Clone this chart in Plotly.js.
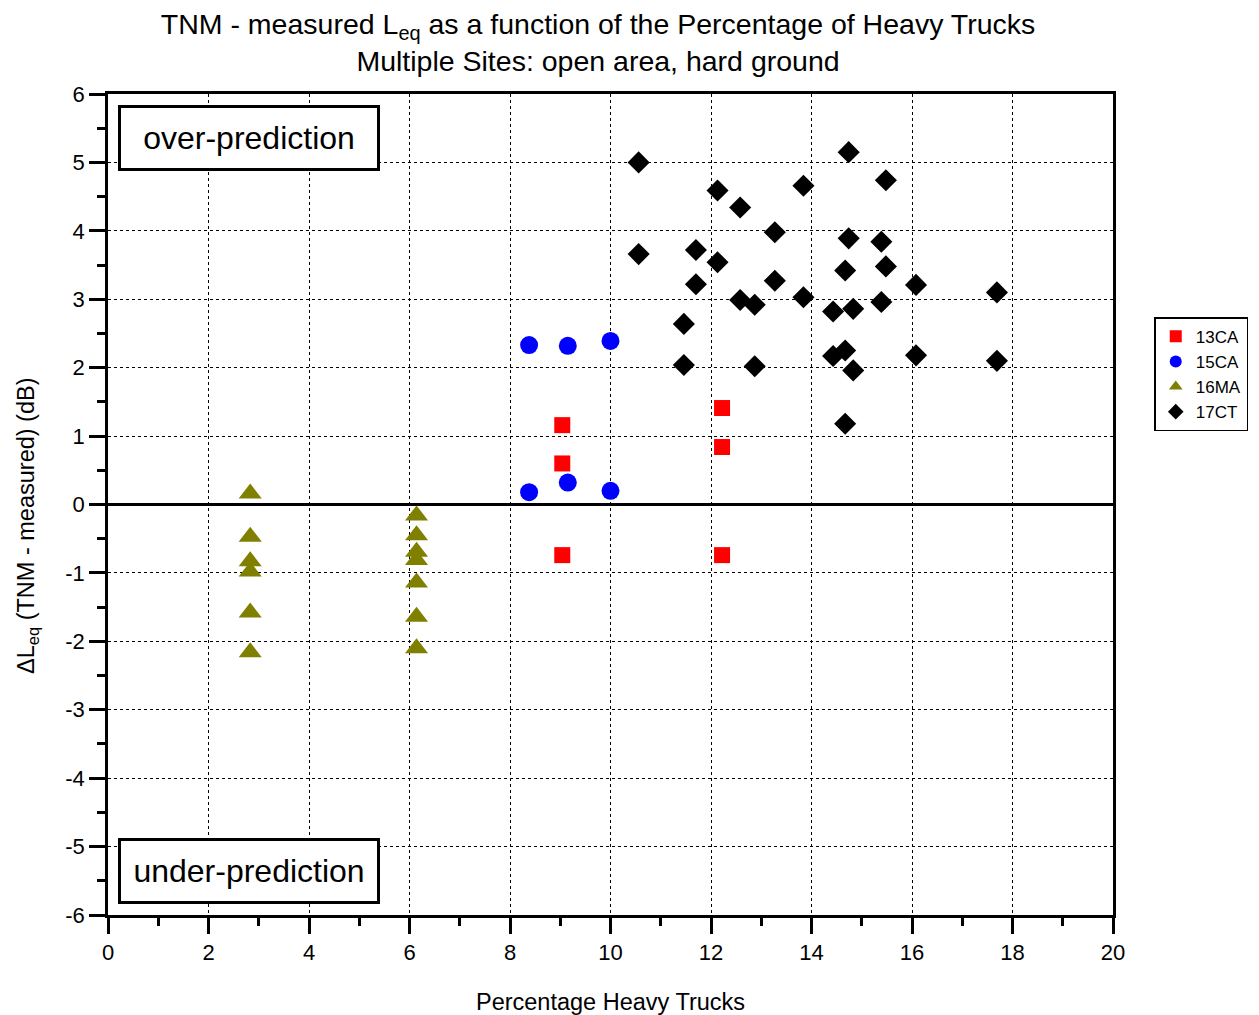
<!DOCTYPE html>
<html>
<head>
<meta charset="utf-8">
<script src="https://cdn.plot.ly/plotly-3.0.1.min.js"></script>
<style>html,body{margin:0;padding:0;background:#fff;}#chart{width:1259px;height:1015px;}</style>
</head>
<body>
<div id="chart"></div>
<script>
// 13CA
const x13CA = [9.04, 9.04, 9.04, 12.22, 12.22, 12.22];
const y13CA = [1.16, 0.60, -0.74, 1.41, 0.84, -0.74];
// 15CA
const x15CA = [8.38, 9.15, 10.0, 8.38, 9.15, 10.0];
const y15CA = [2.33, 2.32, 2.39, 0.18, 0.32, 0.20];
// 16MA
const x16MA = [2.83, 2.83, 2.83, 2.83, 2.83, 2.83,
               6.14, 6.14, 6.14, 6.14, 6.14, 6.14, 6.14];
const y16MA = [0.16, -0.47, -0.83, -0.98, -1.58, -2.16,
               -0.16, -0.45, -0.69, -0.81, -1.14, -1.64, -2.10];
// 17CT
const x17CT = [10.56, 14.74, 15.48, 12.13, 13.84, 12.58, 13.27, 14.74, 15.39, 10.56,
               11.70, 12.13, 15.48, 14.67, 11.70, 13.27, 16.08, 17.69, 12.58, 12.87,
               13.84, 15.39, 14.43, 14.83, 11.46, 11.46, 12.87, 14.43, 14.67, 14.83,
               16.08, 17.69, 14.67];
const y17CT = [5.00, 5.15, 4.74, 4.59, 4.66, 4.34, 3.98, 3.89, 3.84, 3.66,
               3.72, 3.54, 3.48, 3.42, 3.22, 3.27, 3.21, 3.10, 2.99, 2.92,
               3.03, 2.96, 2.82, 2.86, 2.64, 2.04, 2.02, 2.17, 2.25, 1.96,
               2.18, 2.10, 1.18];
// y tick labels (plain hyphen minus, as in the reference)
const yTickVals = [-6, -5, -4, -3, -2, -1, 0, 1, 2, 3, 4, 5, 6];
const yTickText = ['-6', '-5', '-4', '-3', '-2', '-1', '0', '1', '2', '3', '4', '5', '6'];

const FONT = 'Arial, "Liberation Sans", sans-serif';

const traces = [
  {name:'13CA', x:x13CA, y:y13CA, type:'scatter', mode:'markers',
   marker:{symbol:'square', size:16, color:'#ff0000'}},
  {name:'15CA', x:x15CA, y:y15CA, type:'scatter', mode:'markers',
   marker:{symbol:'circle', size:18, color:'#0000ff'}},
  {name:'16MA', x:x16MA, y:y16MA, type:'scatter', mode:'markers',
   marker:{symbol:'triangle-up', size:20, color:'#808000'}},
  {name:'17CT', x:x17CT, y:y17CT, type:'scatter', mode:'markers',
   marker:{symbol:'diamond', size:17, color:'#000000'}}
];

const layout = {
  width:1259, height:1015,
  margin:{l:108, r:145, t:94, b:100},
  paper_bgcolor:'#ffffff', plot_bgcolor:'#ffffff',
  font:{family:FONT, color:'#000'},
  title:{text:'TNM - measured L<sub>eq</sub> as a function of the Percentage of Heavy Trucks<br>Multiple Sites: open area, hard ground',
         font:{family:FONT, size:28.5, color:'#000'}, x:0.475, xanchor:'center',
         yref:'paper', y:1, yanchor:'bottom', pad:{b:60}},
  xaxis:{range:[0,20], dtick:2, tick0:0, ticks:'outside', ticklen:16, tickwidth:2.5, tickcolor:'#000',
         showline:true, linecolor:'#000', linewidth:2.5, mirror:true,
         showgrid:true, gridcolor:'#000', griddash:'dot', gridwidth:1,
         zeroline:false,
         minor:{dtick:1, ticks:'outside', ticklen:8, tickwidth:2.5, tickcolor:'#000', showgrid:false},
         tickfont:{family:FONT, size:22, color:'#000'},
         title:{text:'Percentage Heavy Trucks', font:{family:FONT, size:23.5, color:'#000'}, standoff:30}},
  yaxis:{range:[-6,6], tickmode:'array', tickvals:yTickVals, ticktext:yTickText,
         ticks:'outside', ticklen:16, tickwidth:2.5, tickcolor:'#000',
         showline:true, linecolor:'#000', linewidth:2.5, mirror:true,
         showgrid:true, gridcolor:'#000', griddash:'dot', gridwidth:1,
         zeroline:true, zerolinecolor:'#000', zerolinewidth:3,
         minor:{dtick:0.5, ticks:'outside', ticklen:8, tickwidth:2.5, tickcolor:'#000', showgrid:false},
         tickfont:{family:FONT, size:22, color:'#000'},
         title:{text:''}},
  showlegend:true,
  legend:{x:1.04, xanchor:'left', y:0.728, yanchor:'top', bordercolor:'#000', borderwidth:1.5,
          bgcolor:'#fff', font:{family:FONT, size:17, color:'#000'}, itemsizing:'constant',
          tracegroupgap:0, itemwidth:30},
  annotations:[
    {text:'ΔL<sub>eq</sub> (TNM - measured) (dB)', xref:'paper', yref:'paper', x:-0.0795, y:0.474,
     xanchor:'center', yanchor:'middle', textangle:-90, showarrow:false,
     font:{family:FONT, size:23.5, color:'#000'}},
    {text:'over-prediction', x:2.80, y:5.35, xref:'x', yref:'y', showarrow:false,
     font:{family:FONT, size:32, color:'#000'}, bordercolor:'#000', borderwidth:3,
     width:254, height:58, borderpad:1, bgcolor:'#fff'},
    {text:'under-prediction', x:2.80, y:-5.35, xref:'x', yref:'y', showarrow:false,
     font:{family:FONT, size:32, color:'#000'}, bordercolor:'#000', borderwidth:3,
     width:254, height:58, borderpad:1, bgcolor:'#fff'}
  ]
};

Plotly.newPlot('chart', traces, layout, {displayModeBar:false});
</script>
</body>
</html>
